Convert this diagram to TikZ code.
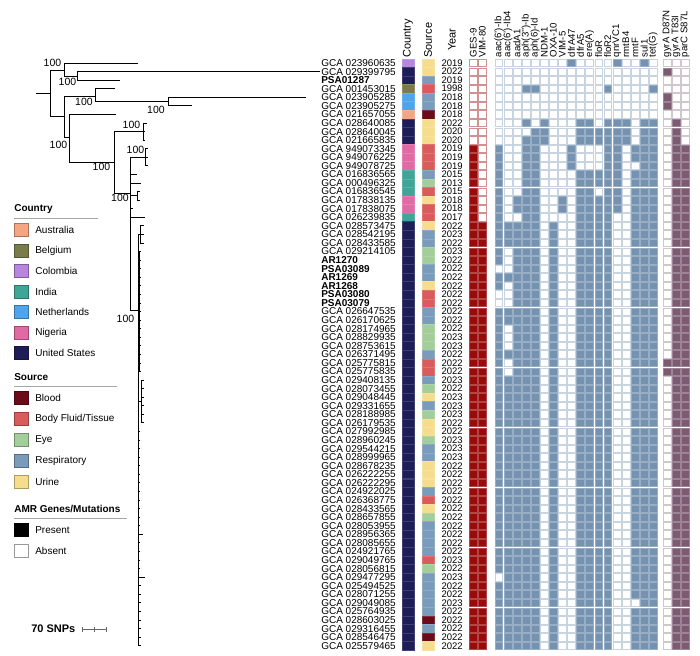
\documentclass[tikz,border=0pt]{standalone}
\usepackage{fontspec}
\setmainfont{Liberation Sans}
\usetikzlibrary{positioning}

\definecolor{cAUS}{HTML}{F4A582}
\definecolor{cBEL}{HTML}{7A7D4A}
\definecolor{cCOL}{HTML}{B687DD}
\definecolor{cIND}{HTML}{3FA597}
\definecolor{cNED}{HTML}{4FA5EC}
\definecolor{cNGA}{HTML}{E06AA4}
\definecolor{cUSA}{HTML}{1F1D57}
\definecolor{sBLD}{HTML}{6B0A18}
\definecolor{sBFT}{HTML}{D95B5B}
\definecolor{sEYE}{HTML}{A3CD9A}
\definecolor{sRSP}{HTML}{7A9CBA}
\definecolor{sURI}{HTML}{F6DD8E}
\definecolor{gRed}{HTML}{990A0A}
\definecolor{gBlue}{HTML}{7593B0}
\definecolor{gPurple}{HTML}{7B5A72}

\begin{document}
\begin{tikzpicture}[
            x=1pt, y=-1pt,
            semithick,
            branch/.style={line width=0.9pt},
            elbow/.style={to path={|- (\tikztotarget)}},
            boot/.style={inner sep=0pt, font=\fontsize{10.5}{11}\selectfont},
            strain/.style={anchor=west, inner sep=0pt, font=\fontsize{10}{10}\selectfont},
            year/.style={anchor=east, inner sep=0pt, font=\fontsize{9.5}{10}\selectfont},
            colhead/.style={rotate=90, anchor=west, inner sep=0pt, font=\fontsize{11}{11}\selectfont},
            genehead/.style={rotate=90, anchor=west, inner sep=0pt, font=\fontsize{9.6}{10}\selectfont},
            keyhead/.style={anchor=west, inner sep=0pt, font=\fontsize{10}{10}\selectfont\bfseries},
            keytext/.style={anchor=west, inner sep=0pt, font=\fontsize{10}{10}\selectfont},
            keyrule/.style={draw=gray!70, line width=0.7pt},
            swatch/.style={minimum width=14pt, minimum height=13.4pt, inner sep=0pt, line width=0.6pt}
        ]

        \tikzstyle{red on}=[fill=gRed, draw=gRed!75!white, line width=0.5pt]
        \tikzstyle{red off}=[fill=white, draw=gRed!45!white, line width=0.5pt]
        \tikzstyle{blue on}=[fill=gBlue, draw=gBlue!75!white, line width=0.5pt]
        \tikzstyle{blue off}=[fill=white, draw=gBlue!40!white, line width=0.5pt]
        \tikzstyle{purple on}=[fill=gPurple, draw=gPurple!75!white, line width=0.5pt]
        \tikzstyle{purple off}=[fill=white, draw=gPurple!35!white, line width=0.5pt]

        \fill[white] (0,0) rectangle (700,655);
        \useasboundingbox (0,0) rectangle (700,655);

        % strains, year, country, source
        \foreach \r/\id/\yr/\cty/\src in {
            1/GCA 023960635/2019/cCOL/sURI, 2/GCA 029399795/2022/cUSA/sURI,
            3/{\bfseries PSA01287}/2019/cUSA/sRSP, 4/GCA 001453015/1998/cBEL/sBFT,
            5/GCA 023905285/2018/cNED/sRSP, 6/GCA 023905275/2018/cNED/sRSP,
            7/GCA 021657055/2018/cAUS/sBLD, 8/GCA 028640085/2022/cUSA/sURI,
            9/GCA 028640045/2020/cUSA/sURI, 10/GCA 021665835/2020/cUSA/sURI,
            11/GCA 949073345/2019/cNGA/sBFT, 12/GCA 949076225/2019/cNGA/sBFT,
            13/GCA 949078725/2019/cNGA/sBFT, 14/GCA 016836565/2015/cIND/sRSP,
            15/GCA 000496325/2013/cIND/sEYE, 16/GCA 016836545/2015/cIND/sBFT,
            17/GCA 017838135/2018/cNGA/sURI, 18/GCA 017838075/2018/cNGA/sBFT,
            19/GCA 026239835/2017/cIND/sBFT, 20/GCA 028573475/2022/cUSA/sURI,
            21/GCA 028542195/2023/cUSA/sRSP, 22/GCA 028433585/2022/cUSA/sRSP,
            23/GCA 029214105/2023/cUSA/sEYE, 24/{\bfseries AR1270}/2022/cUSA/sEYE,
            25/{\bfseries PSA03089}/2022/cUSA/sRSP, 26/{\bfseries AR1269}/2022/cUSA/sRSP,
            27/{\bfseries AR1268}/2022/cUSA/sURI, 28/{\bfseries PSA03080}/2022/cUSA/sBFT,
            29/{\bfseries PSA03079}/2022/cUSA/sBFT, 30/GCA 026647535/2022/cUSA/sRSP,
            31/GCA 026170625/2022/cUSA/sRSP, 32/GCA 028174965/2022/cUSA/sEYE,
            33/GCA 028829935/2023/cUSA/sEYE, 34/GCA 028753615/2023/cUSA/sEYE,
            35/GCA 026371495/2022/cUSA/sRSP, 36/GCA 025775815/2022/cUSA/sBFT,
            37/GCA 025775835/2022/cUSA/sBFT, 38/GCA 029408135/2023/cUSA/sRSP,
            39/GCA 028073455/2022/cUSA/sEYE, 40/GCA 029048445/2023/cUSA/sURI,
            41/GCA 029331655/2023/cUSA/sRSP, 42/GCA 028188985/2023/cUSA/sEYE,
            43/GCA 026179535/2022/cUSA/sURI, 44/GCA 027992985/2022/cUSA/sURI,
            45/GCA 028960245/2023/cUSA/sEYE, 46/GCA 029544215/2023/cUSA/sRSP,
            47/GCA 028999965/2023/cUSA/sRSP, 48/GCA 028678235/2022/cUSA/sURI,
            49/GCA 026222255/2022/cUSA/sURI, 50/GCA 026222295/2022/cUSA/sURI,
            51/GCA 024922025/2022/cUSA/sRSP, 52/GCA 026368775/2022/cUSA/sBFT,
            53/GCA 028433565/2022/cUSA/sURI, 54/GCA 028657855/2022/cUSA/sEYE,
            55/GCA 028053955/2022/cUSA/sRSP, 56/GCA 028956365/2022/cUSA/sRSP,
            57/GCA 028085655/2022/cUSA/sRSP, 58/GCA 024921765/2022/cUSA/sRSP,
            59/GCA 029049765/2023/cUSA/sBFT, 60/GCA 028056815/2022/cUSA/sEYE,
            61/GCA 029477295/2023/cUSA/sRSP, 62/GCA 025494525/2022/cUSA/sRSP,
            63/GCA 028071255/2022/cUSA/sRSP, 64/GCA 029049085/2023/cUSA/sRSP,
            65/GCA 025764935/2022/cUSA/sRSP, 66/GCA 028603025/2022/cUSA/sBLD,
            67/GCA 029316455/2022/cUSA/sRSP, 68/GCA 028546475/2022/cUSA/sBLD,
            69/GCA 025579465/2022/cUSA/sURI} {
            \pgfmathsetmacro{\yy}{63+8.57*(\r-1)}
            \node[strain] (id\r) at (321,\yy) {\id};
            \node[year] (yr\r) at (463,\yy) {\yr};
            \path[fill=\cty, draw=\cty!85!white, line width=0.3pt] (402,\yy-4.28) rectangle (414,\yy+4.28);
            \path[fill=\src, draw=\src!85!white, line width=0.3pt] (422,\yy-4.28) rectangle (434,\yy+4.28);
        }

        \node[colhead] (hcountry) at (408,58) {Country};
        \node[colhead] (hsource) at (428,58) {Source};
        \node[colhead] (hyear) at (452,51) {Year};

        \node[genehead] (hges) at (473.4,57.5) {GES-9};
        \node[genehead] (hvim) at (482.4,57.5) {VIM-80};
        \foreach \g [count=\c from 0] in {aac(6')-Ib, aac(6')-Ib4, aadA1, aph(3'{}')-Ib, aph(6)-Id,
            NDM-1, OXA-10, VIM-5, dfrA47, dfrA5, ere(A), floR, floR2, qnrVC1, rmtB4, rmtF, sul1, tet(G)}
            \node[genehead] (hg\c) at ({498.8+9.08*\c},57.5) {\g};
        \node[genehead] (hgyr1) at (666.9,57.5) {gyrA D87N};
        \node[genehead] (hgyr2) at (675.9,57.5) {gyrA T83I};
        \node[genehead] (hpar) at (685,57.5) {parC S87L};

        % heatmap: absent cells
        \foreach \r in {1,...,69} {
            \pgfmathsetmacro{\yy}{63+8.57*(\r-1)}
            \foreach \xx in {473.4,482.4}
                \path[red off] (\xx-3.9,\yy-3.7) rectangle (\xx+3.9,\yy+3.7);
            \foreach \c in {0,...,17}
                \path[blue off] ({498.8+9.08*\c-3.9},\yy-3.7) rectangle ++(7.8,7.4);
            \foreach \xx in {666.9,675.9,685}
                \path[purple off] (\xx-3.9,\yy-3.7) rectangle (\xx+3.9,\yy+3.7);
        }

        % heatmap: present cells
        \foreach \r/\cols in {1/{8,13,16}, 4/{3,4,12,17},
            8/{3,5,9,10,12,13,14,16,17}, 9/{4,5,9,10,11,12,13,14,16,17},
            10/{3,4,5,9,10,11,12,13,14,16,17},
            11/{0,3,4,8,12,13,15,16,17}, 12/{0,3,4,8,12,13,15,16,17},
            13/{0,3,4,8,12,13,16,17},
            14/{0,3,4,9,10,11,12,13,15,16,17}, 15/{0,3,4,9,10,11,12,13,15,16,17},
            16/{0,3,4,9,10,12,13,15,16,17},
            17/{0,2,3,4,7,9,10,11,12,13,15,16,17}, 18/{0,2,3,4,7,9,10,11,12,13,15,16,17},
            19/{0,3,4,9,10,11,12,15,16,17}} {
            \pgfmathsetmacro{\yy}{63+8.57*(\r-1)}
            \foreach \c in \cols
                \path[blue on] ({498.8+9.08*\c-3.9},\yy-3.7) rectangle ++(7.8,7.4);
        }
        \foreach \r in {20,...,69} {
            \pgfmathsetmacro{\yy}{63+8.57*(\r-1)}
            \foreach \c in {0,1,2,3,4,6,9,10,11,12,15,16,17}
                \path[blue on] ({498.8+9.08*\c-3.9},\yy-3.7) rectangle ++(7.8,7.4);
        }
        \foreach \r/\c in {23/1, 24/1, 25/0, 25/1, 27/1, 28/0, 28/1, 29/0, 29/1,
            32/1, 33/1, 34/1, 36/1, 37/1, 61/0, 64/15} {
            \pgfmathsetmacro{\yy}{63+8.57*(\r-1)}
            \path[blue off] ({498.8+9.08*\c-3.9},\yy-3.7) rectangle ++(7.8,7.4);
        }
        \foreach \r in {11,...,69} {
            \pgfmathsetmacro{\yy}{63+8.57*(\r-1)}
            \path[red on] (469.5,\yy-3.7) rectangle ++(7.8,7.4);
            \path[purple on] (681.1,\yy-3.7) rectangle ++(7.8,7.4);
            \path[purple on] (672,\yy-3.7) rectangle ++(7.8,7.4);
        }
        \foreach \r in {20,...,69} {
            \pgfmathsetmacro{\yy}{63+8.57*(\r-1)}
            \path[red on] (478.5,\yy-3.7) rectangle ++(7.8,7.4);
        }
        \foreach \r in {8,9,10} {
            \pgfmathsetmacro{\yy}{63+8.57*(\r-1)}
            \path[purple on] (672,\yy-3.7) rectangle ++(7.8,7.4);
        }
        \foreach \r in {2,5,6,36,37} {
            \pgfmathsetmacro{\yy}{63+8.57*(\r-1)}
            \path[purple on] (663,\yy-3.7) rectangle ++(7.8,7.4);
        }

        % tree tips
        \foreach \r/\tx in {1/138, 2/320, 3/120, 4/115, 5/306, 6/192, 7/116,
            8/147, 9/144.5, 10/144.5, 11/147.5, 12/147.5, 13/147.5, 14/137,
            15/141, 16/139.5, 17/139.5, 18/133, 19/145, 20/143.5, 21/143.5,
            22/143.5, 56/143, 61/145}
            \coordinate (t\r) at (\tx,{63+8.57*(\r-1)});
        \foreach \r in {23,...,37} \coordinate (t\r) at (141,{63+8.57*(\r-1)});
        \foreach \r in {38,...,43} \coordinate (t\r) at (143.5,{63+8.57*(\r-1)});
        \foreach \r in {44,...,55,57,58,59,60} \coordinate (t\r) at (140,{63+8.57*(\r-1)});
        \foreach \r in {62,...,69} \coordinate (t\r) at (141,{63+8.57*(\r-1)});

        % tree inner nodes
        \coordinate (base) at (36,93);
        \coordinate (root) at (50,93);
        \coordinate (nA) at (64,70);
        \coordinate (nB) at (77,76);
        \coordinate (nC) at (64,116.5);
        \coordinate (nD) at (95.7,96);
        \coordinate (nF) at (168,101.6);
        \coordinate (nE) at (69,137);
        \coordinate (nG) at (114,162);
        \coordinate (nH) at (143,131.5);
        \coordinate (nJ) at (130,193);
        \coordinate (nK) at (145,157.3);
        \coordinate (nM) at (137,195.8);
        \coordinate (nL) at (138.5,310);
        \coordinate (nN) at (140.5,234.6);
        \coordinate (nP) at (139.8,311.5);
        \coordinate (nO) at (141.2,401.7);

        \path[branch] (base) edge (root);
        \path[branch] (root) edge[elbow] (nA) edge[elbow] (nC);
        \path[branch] (nA) edge[elbow] (t1) edge[elbow] (nB);
        \path[branch] (nB) edge[elbow] (t2) edge[elbow] (t3);
        \path[branch] (nC) edge[elbow] (nD) edge[elbow] (nE);
        \path[branch] (nD) edge[elbow] (t4) edge[elbow] (nF);
        \path[branch] (nF) edge[elbow] (t5) edge[elbow] (t6);
        \path[branch] (nE) edge[elbow] (t7) edge[elbow] (nG);
        \path[branch] (nG) edge[elbow] (nH) edge[elbow] (nJ);
        \path[branch] (nH) edge[elbow] (t8) edge[elbow] (t9) edge[elbow] (t10);
        \path[branch] (nJ) edge[elbow] (nK) edge[elbow] (t14) edge[elbow] (t15)
            edge[elbow] (nM) edge[elbow] (t18) edge[elbow] (t19) edge[elbow] (nL);
        \path[branch] (nK) edge[elbow] (t11) edge[elbow] (t12) edge[elbow] (t13);
        \path[branch] (nM) edge[elbow] (t16) edge[elbow] (t17);
        \path[branch] (nL) edge[elbow] (nN) edge[elbow] (nP) edge[elbow] (nO);
        \path[branch] (nN) edge[elbow] (t20) edge[elbow] (t21) edge[elbow] (t22);
        \foreach \r in {23,...,37} \path[branch] (nP) edge[elbow] (t\r);
        \foreach \r in {38,...,43} \path[branch] (nO) edge[elbow] (t\r);
        \foreach \r in {44,...,69} \path[branch] (nL) edge[elbow] (t\r);

        % bootstrap values
        \node[boot] (bsA) at (52.5,63) {100};
        \node[boot] (bsB) at (67.5,81.5) {100};
        \node[boot] (bsD) at (84,102) {100};
        \node[boot] (bsF) at (156,109.5) {100};
        \node[boot] (bsE) at (58.5,144.5) {100};
        \node[boot] (bsG) at (101.5,167) {100};
        \node[boot] (bsH) at (131.5,125) {100};
        \node[boot] (bsK) at (135.5,150) {100};
        \node[boot] (bsJ) at (120,197.5) {100};
        \node[boot] (bsL) at (125.5,318.5) {100};

        % legend
        \node[keyhead] (kcountry) at (14,209.5) {Country};
        \draw[keyrule] (14,218.5) -- (98,218.5);
        \foreach \ky/\kc/\kt in {230/cAUS/Australia, 250.7/cBEL/Belgium, 271/cCOL/Colombia,
            291.5/cIND/India, 312/cNED/Netherlands, 332.5/cNGA/Nigeria, 353/cUSA/United States} {
            \node[swatch, fill=\kc, draw=\kc!70!black] (k\kc) at (21,\ky) {};
            \node[keytext] (kt\kc) at (35,\ky) {\kt};
        }
        \node[keyhead] (ksource) at (14,376.7) {Source};
        \draw[keyrule] (14,386.5) -- (117,386.5);
        \foreach \ky/\kc/\kt in {397.7/sBLD/Blood, 418.7/sBFT/{Body Fluid/Tissue}, 439.7/sEYE/Eye,
            460.7/sRSP/Respiratory, 481.7/sURI/Urine} {
            \node[swatch, fill=\kc, draw=\kc!70!black] (k\kc) at (21,\ky) {};
            \node[keytext] (kt\kc) at (35,\ky) {\kt};
        }
        \node[keyhead] (kamr) at (14,509.3) {AMR Genes/Mutations};
        \draw[keyrule] (14,518.5) -- (127,518.5);
        \node[swatch, fill=black, draw=black] (kpres) at (21,530) {};
        \node[keytext] (ktpres) at (35,530) {Present};
        \node[swatch, fill=white, draw=gray!80] (kabs) at (21,551) {};
        \node[keytext] (ktabs) at (35,551) {Absent};

        % scale bar
        \node[keyhead, font=\fontsize{11}{11}\selectfont\bfseries] (ksnp) at (31,629) {70 SNPs};
        \coordinate (sb0) at (82,629);
        \coordinate (sb1) at (106,629);
        \draw[gray!80!black, line width=0.7pt] (sb0) -- (sb1);
        \foreach \sx in {82,94,106}
            \draw[gray!80!black, line width=0.7pt] (\sx,626.5) -- (\sx,631.5);

    \end{tikzpicture}
\end{document}
